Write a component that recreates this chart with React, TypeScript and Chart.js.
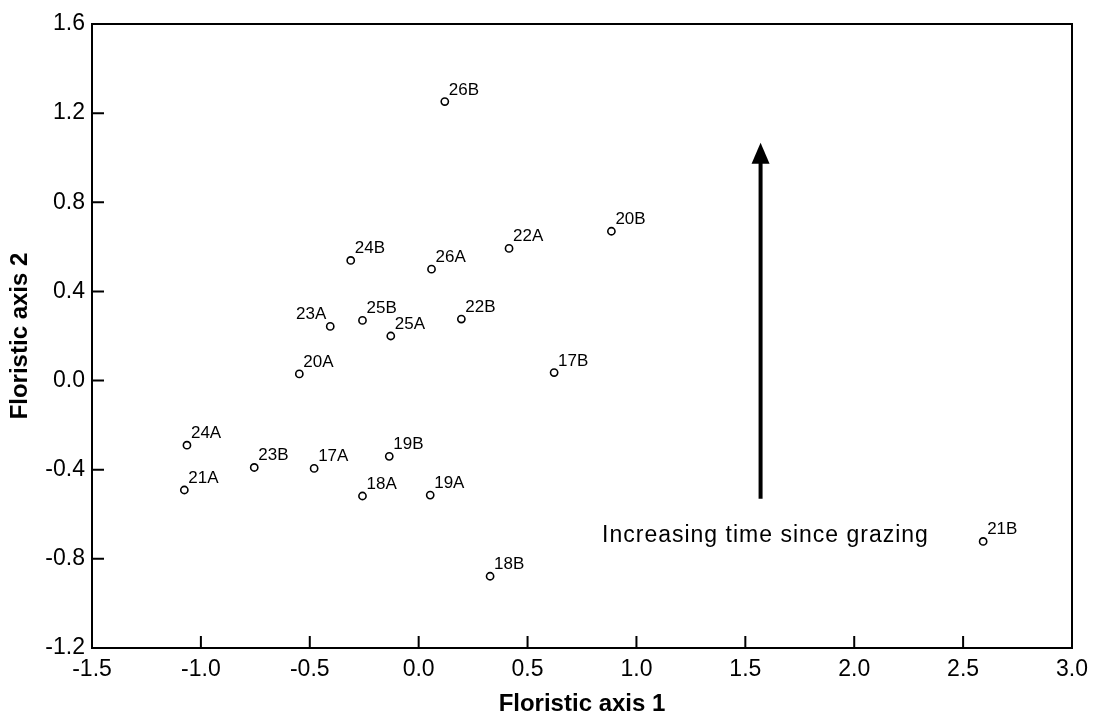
import React, { useEffect, useRef } from 'react';
import { Chart, registerables } from 'chart.js';

Chart.register(...registerables);

const siteLabels = ['26B', '24B', '26A', '22A', '20B', '23A', '25B', '25A', '22B', '20A', '17B', '24A', '23B', '17A', '19B', '21A', '18A', '19A', '18B', '21B'];
const axis1Values = [0.12, -0.312, 0.059, 0.415, 0.885, -0.406, -0.258, -0.128, 0.196, -0.548, 0.622, -1.064, -0.755, -0.48, -0.135, -1.076, -0.258, 0.053, 0.328, 2.592];
const axis2Values = [1.252, 0.539, 0.5, 0.593, 0.67, 0.243, 0.27, 0.2, 0.276, 0.03, 0.036, -0.29, -0.39, -0.394, -0.34, -0.491, -0.518, -0.514, -0.878, -0.722];
const labelSides = ['right', 'right', 'right', 'right', 'right', 'left', 'right', 'right', 'right', 'right', 'right', 'right', 'right', 'right', 'right', 'right', 'right', 'right', 'right', 'right'];

const xTickValues = [-1.5, -1.0, -0.5, 0.0, 0.5, 1.0, 1.5, 2.0, 2.5, 3.0];
const yTickValues = [-1.2, -0.8, -0.4, 0.0, 0.4, 0.8, 1.2, 1.6];

const arrowX = [1.57, 1.57];
const arrowY = [-0.53, 1.067];
const noteText = 'Increasing time since grazing';
const notePosX = [0.842];
const notePosY = [-0.694];

const xTitle = 'Floristic axis 1';
const yTitle = 'Floristic axis 2';

const FONT = '"Liberation Sans", Arial, Helvetica, sans-serif';

const decorPlugin = {
  id: 'decor',
  afterDatasetsDraw(chart: any) {
    const { ctx, chartArea, scales } = chart;
    const xs = scales.x;
    const ys = scales.y;
    const { left, right, top, bottom } = chartArea;
    ctx.save();
    ctx.strokeStyle = '#000';
    ctx.fillStyle = '#000';
    // frame
    ctx.lineWidth = 2;
    ctx.strokeRect(left, top, right - left, bottom - top);
    // inward ticks
    ctx.beginPath();
    xTickValues.forEach((v) => {
      const px = xs.getPixelForValue(v);
      ctx.moveTo(px, bottom);
      ctx.lineTo(px, bottom - 12);
    });
    yTickValues.forEach((v) => {
      const py = ys.getPixelForValue(v);
      ctx.moveTo(left, py);
      ctx.lineTo(left + 12, py);
    });
    ctx.stroke();

    // arrow
    const ax = xs.getPixelForValue(arrowX[0]);
    const ay0 = ys.getPixelForValue(arrowY[0]);
    const ayTip = ys.getPixelForValue(arrowY[1]);
    const headLen = 21;
    ctx.lineWidth = 4;
    ctx.beginPath();
    ctx.moveTo(ax, ay0);
    ctx.lineTo(ax, ayTip + headLen - 2);
    ctx.stroke();
    ctx.beginPath();
    ctx.moveTo(ax, ayTip);
    ctx.lineTo(ax - 9, ayTip + headLen);
    ctx.lineTo(ax + 9, ayTip + headLen);
    ctx.closePath();
    ctx.fill();

    // note text
    ctx.font = `23px ${FONT}`;
    (ctx as any).letterSpacing = '1px';
    ctx.textAlign = 'left';
    ctx.textBaseline = 'middle';
    ctx.fillText(noteText, xs.getPixelForValue(notePosX[0]), ys.getPixelForValue(notePosY[0]));
    (ctx as any).letterSpacing = '0px';

    // point labels
    const meta = chart.getDatasetMeta(0);
    ctx.font = `17px ${FONT}`;
    ctx.textBaseline = 'alphabetic';
    meta.data.forEach((el: any, i: number) => {
      const side = labelSides[i];
      if (side === 'left') {
        ctx.textAlign = 'right';
        ctx.fillText(siteLabels[i], el.x - 4, el.y - 7);
      } else {
        ctx.textAlign = 'left';
        ctx.fillText(siteLabels[i], el.x + 4, el.y - 7);
      }
    });
    ctx.restore();
  },
};

export default function App() {
  const canvasRef = useRef<HTMLCanvasElement | null>(null);

  useEffect(() => {
    const canvas = canvasRef.current;
    if (!canvas) return;
    const points = axis1Values.map((x, i) => ({ x, y: axis2Values[i] }));
    const chart = new Chart(canvas, {
      type: 'scatter',
      data: {
        datasets: [
          {
            label: 'Sites',
            data: points,
            pointRadius: 3.6,
            pointHoverRadius: 3.6,
            pointBorderWidth: 1.6,
            pointBackgroundColor: '#fff',
            pointBorderColor: '#000',
            showLine: false,
          },
        ],
      },
      options: {
        animation: false,
        responsive: false,
        devicePixelRatio: 1,
        events: [],
        layout: { padding: { top: 24, right: 34, left: 0, bottom: 0 } },
        plugins: {
          legend: { display: false },
          tooltip: { enabled: false },
        },
        scales: {
          x: {
            type: 'linear',
            min: -1.5,
            max: 3.0,
            afterBuildTicks: (s: any) => {
              s.ticks = xTickValues.map((v) => ({ value: v }));
            },
            afterFit: (s: any) => {
              s.height = 65;
            },
            grid: { display: false, drawTicks: false },
            border: { display: false },
            ticks: {
              color: '#000',
              padding: 8,
              font: { family: FONT, size: 23 },
              maxRotation: 0,
              callback: (v: any) => Number(v).toFixed(1),
            },
            title: {
              display: true,
              text: xTitle,
              color: '#000',
              font: { family: FONT, size: 24, weight: 'bold', lineHeight: 0.75 },
              padding: { top: 0, bottom: 0 },
            },
          },
          y: {
            type: 'linear',
            min: -1.2,
            max: 1.6,
            afterBuildTicks: (s: any) => {
              s.ticks = yTickValues.map((v) => ({ value: v }));
            },
            afterFit: (s: any) => {
              s.width = 92;
            },
            grid: { display: false, drawTicks: false },
            border: { display: false },
            ticks: {
              color: '#000',
              padding: 7,
              font: { family: FONT, size: 23 },
              callback: (v: any) => Number(v).toFixed(1),
            },
            title: {
              display: true,
              text: yTitle,
              color: '#000',
              font: { family: FONT, size: 24, weight: 'bold', lineHeight: 1.2 },
              padding: { top: 6, bottom: 0 },
            },
          },
        },
      },
      plugins: [decorPlugin],
    } as any);
    return () => {
      chart.destroy();
    };
  }, []);

  return (
    <div style={{ position: 'fixed', left: 0, top: 0, width: 1106, height: 713, overflow: 'hidden', background: '#fff' }}>
      <canvas ref={canvasRef} width={1106} height={713} style={{ display: 'block', width: 1106, height: 713 }} />
    </div>
  );
}
